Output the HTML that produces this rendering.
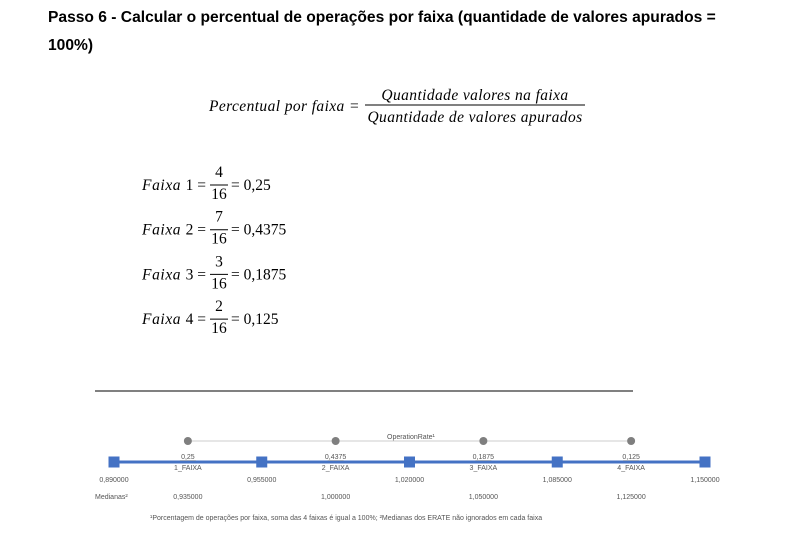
<!DOCTYPE html>
<html><head><meta charset="utf-8"><style>
body{margin:0;background:#fff;width:790px;height:540px;overflow:hidden}
svg{display:block}
.t{font-family:"Liberation Sans",sans-serif;font-weight:bold;font-size:15.6px;fill:#000}
.m{font-family:"Liberation Serif","DejaVu Serif",serif;font-size:15.5px;fill:#000}
.i{font-style:italic;letter-spacing:0.4px}
.s{font-family:"Liberation Sans",sans-serif;font-size:7px;fill:#555}
</style></head><body>
<svg id="root" width="790" height="540">
<text class="t" x="48" y="22">Passo 6 - Calcular o percentual de operações por faixa (quantidade de valores apurados =</text>
<text class="t" x="48" y="50">100%)</text>

<g>
<text class="m i" x="209" y="111">Percentual por faixa =</text>
<text class="m i" x="475" y="100" text-anchor="middle">Quantidade valores na faixa</text>
<line x1="365" y1="105" x2="585" y2="105" stroke="#000" stroke-width="1"/>
<text class="m i" x="475" y="122" text-anchor="middle">Quantidade de valores apurados</text>
</g>
<g id="rows"></g>

<line x1="95" y1="391" x2="633" y2="391" stroke="#000" stroke-width="1"/>

<g id="chart"></g>
</svg>
<script>
const numerators=[4,7,3,2];
const denominator=16;
const results=["0,25","0,4375","0,1875","0,125"];
const boundaries=["0,890000","0,955000","1,020000","1,085000","1,150000"];
const percents=["0,25","0,4375","0,1875","0,125"];
const faixas=["1_FAIXA","2_FAIXA","3_FAIXA","4_FAIXA"];
const medians=["0,935000","1,000000","1,050000","1,125000"];

const NS="http://www.w3.org/2000/svg";
function mk(tag,attrs,parent,txt){const e=document.createElementNS(NS,tag);for(const k in attrs)e.setAttribute(k,attrs[k]);if(txt!==undefined)e.textContent=txt;parent.appendChild(e);return e;}

const rows=document.getElementById('rows');
numerators.forEach((n,i)=>{
  const cy=185+i*44.7;
  const g=mk('g',{},rows);
  
  
  const t=mk('text',{class:'m',x:142,y:cy+5},g);
  mk('tspan',{'font-style':'italic','letter-spacing':'0.6'},t,'Faixa ');
  mk('tspan',{},t,(i+1)+' =');
  mk('text',{class:'m',x:219,y:cy-8,'text-anchor':'middle'},g,String(n));
  mk('line',{x1:210,y1:cy,x2:228,y2:cy,stroke:'#000','stroke-width':1},g);
  mk('text',{class:'m',x:219,y:cy+14,'text-anchor':'middle'},g,String(denominator));
  mk('text',{class:'m',x:231,y:cy+5},g,'= '+results[i]);
});

const chart=document.getElementById('chart');
const x0=114,x1=705;
const bx=i=>x0+(x1-x0)*i/(boundaries.length-1);
const mx=i=>(bx(i)+bx(i+1))/2;
const gl=mk('line',{x1:mx(0),y1:441,x2:mx(medians.length-1),y2:441,stroke:'#ccc','stroke-width':1},chart);


const bl=mk('line',{x1:x0,y1:462,x2:x1,y2:462,stroke:'#4472c4','stroke-width':3},chart);


const lt=mk('text',{class:'s',x:387,y:439},chart,'OperationRate¹');


boundaries.forEach((b,i)=>{
  const r=mk('rect',{x:bx(i)-5.5,y:456.5,width:11,height:11,fill:'#4472c4'},chart);
  
  
  const t=mk('text',{class:'s',x:bx(i),y:482,'text-anchor':'middle'},chart,b);
  
  
});
percents.forEach((p,i)=>{
  const c=mk('circle',{cx:mx(i),cy:441,r:4,fill:'#7f7f7f'},chart);
  
  
  const t=mk('text',{class:'s',x:mx(i),y:459,'text-anchor':'middle'},chart,p);
  
  
  mk('line',{x1:mx(i)-8,y1:460.5,x2:mx(i)+8,y2:460.5,stroke:'#999','stroke-width':0.5},chart);
  const f=mk('text',{class:'s',x:mx(i),y:470,'text-anchor':'middle','font-size':'5.5'},chart,faixas[i]);
  
  
  const m=mk('text',{class:'s',x:mx(i),y:499,'text-anchor':'middle'},chart,medians[i]);
  
  
});
const ml=mk('text',{class:'s',x:95,y:499},chart,'Medianas²');


const fn=mk('text',{class:'s',x:150,y:520,'font-size':'5.5'},chart,'¹Porcentagem de operações por faixa, soma das 4 faixas é igual a 100%; ²Medianas dos ERATE não ignorados em cada faixa');


</script>
</body></html>
